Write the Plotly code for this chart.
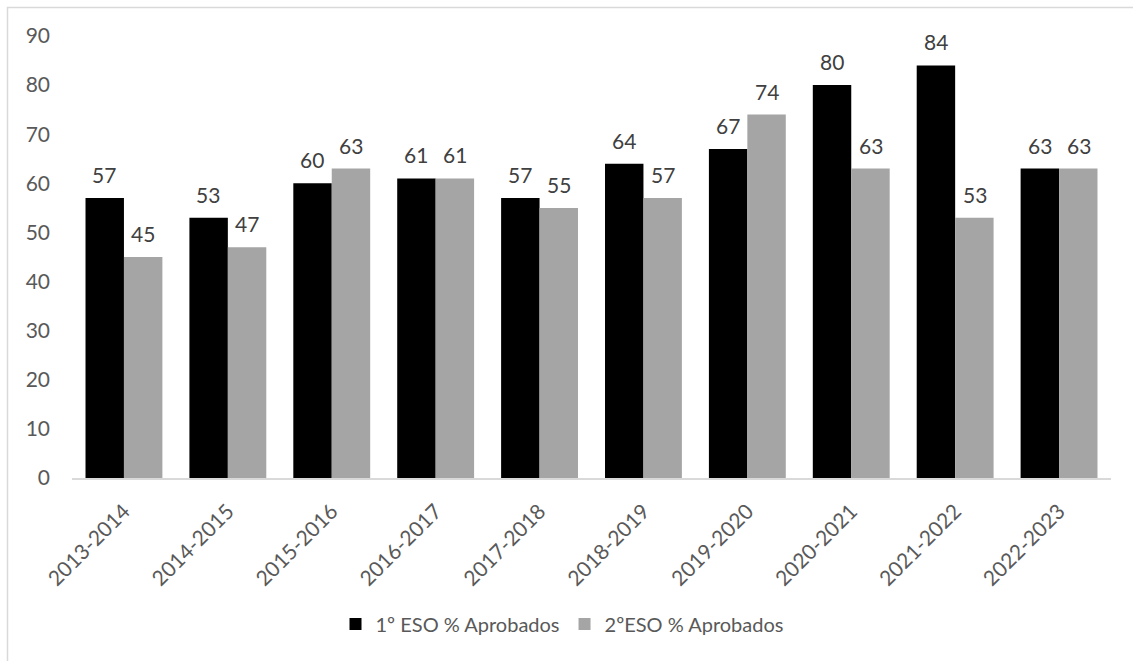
import plotly.graph_objects as go

categories = ["2013-2014", "2014-2015", "2015-2016", "2016-2017", "2017-2018",
              "2018-2019", "2019-2020", "2020-2021", "2021-2022", "2022-2023"]
eso1 = [57, 53, 60, 61, 57, 64, 67, 80, 84, 63]
eso2 = [45, 47, 63, 61, 55, 57, 74, 63, 53, 63]
name1 = "1º ESO % Aprobados"
name2 = "2ºESO % Aprobados"

W, H = 1133, 661
L, R, T, B = 72, 22, 36, 183
pw, ph = W - L - R, H - T - B
FONT = "Lato"
TXT = "#595959"

fig = go.Figure()
fig.add_trace(go.Bar(x=categories, y=eso1, name=name1, marker=dict(color="#000000", line=dict(width=0))))
fig.add_trace(go.Bar(x=categories, y=eso2, name=name2, marker=dict(color="#a5a5a5", line=dict(width=0))))

annots = []
for c, v1, v2 in zip(categories, eso1, eso2):
    for v, sh in ((v1, -19.5), (v2, 19.5)):
        annots.append(dict(x=c, y=v, text=str(v), xref="x", yref="y", showarrow=False,
                           xshift=sh, yshift=9, yanchor="bottom",
                           font=dict(family=FONT, size=21, color="#404040")))

fig.update_layout(
    width=W, height=H,
    margin=dict(l=L, r=R, t=T, b=B),
    paper_bgcolor="white", plot_bgcolor="white",
    barmode="group", bargap=0.26, bargroupgap=0,
    font=dict(family=FONT, size=21, color=TXT),
    showlegend=True,
    legend=dict(orientation="h", x=(562 - L) / pw, xanchor="center",
                y=(H - B - 624) / ph, yanchor="middle",
                font=dict(family=FONT, size=20, color=TXT),
                itemwidth=30, traceorder="normal"),
    annotations=annots,
    xaxis=dict(showgrid=False, showline=True, linecolor="#d9d9d9", linewidth=1.5,
               tickangle=-45, ticks="", ticklabelstandoff=11,
               tickfont=dict(family=FONT, size=21, color=TXT)),
    yaxis=dict(range=[0, 90], dtick=10, showgrid=False, showline=False, zeroline=False,
               ticks="", ticklabelstandoff=21,
               tickfont=dict(family=FONT, size=21, color=TXT)),
    shapes=[dict(type="rect", xref="paper", yref="paper",
                 x0=(7.5 - L) / pw, x1=(W + 20 - L) / pw,
                 y0=(H - B - (H + 20)) / ph, y1=1 + (T - 7.5) / ph,
                 line=dict(color="#d9d9d9", width=1.5), fillcolor="rgba(0,0,0,0)", layer="below")],
)

fig.write_html("out.html")
